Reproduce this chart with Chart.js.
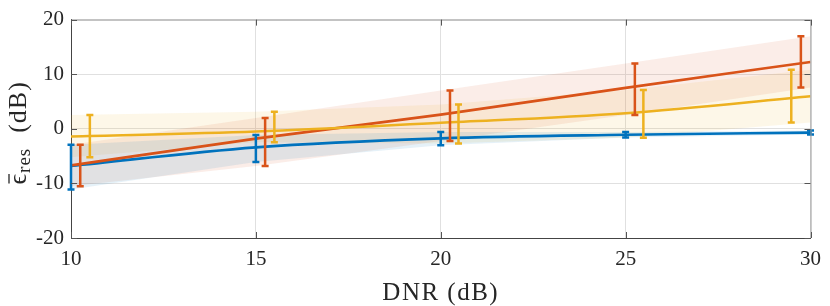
<!DOCTYPE html>
<html>
<head>
<meta charset="utf-8">
<script src="https://cdn.jsdelivr.net/npm/chart.js@4.4.1/dist/chart.umd.min.js"></script>
<style>
  html, body { margin: 0; padding: 0; background: #ffffff; }
  #chart { display: block; }
</style>
</head>
<body>
<canvas id="chart" width="830" height="306"></canvas>
<script>
// x positions of the measurements (DNR in dB)
const DNR = [10, 15, 20, 25, 30];
const X_TICKS = [10, 15, 20, 25, 30];
const Y_TICKS = [-20, -10, 0, 10, 20];

// fitted curves
const BLUE_LINE = [-6.8, -3.4, -1.75, -1.1, -0.7];
const ORANGE_LINE = [-6.7, -1.8, 2.6, 7.5, 12.25];
const YELLOW_LINE = [-1.4, -0.5, 1.1, 2.85, 5.95];

// error bars (slightly shifted along x so they do not overlap)
const BLUE_BAR_X = [10, 15, 20, 25, 30];
const BLUE_HI = [-2.9, -1.15, -0.6, -0.6, -0.3];
const BLUE_LO = [-11.1, -6.1, -3.0, -1.6, -1.05];

const ORANGE_BAR_X = [10.25, 15.25, 20.25, 25.25, 29.74];
const ORANGE_HI = [-2.9, 2.0, 7.0, 11.95, 16.95];
const ORANGE_LO = [-10.5, -6.8, -2.25, 2.55, 7.55];

const YELLOW_BAR_X = [10.51, 15.5, 20.48, 25.48, 29.48];
const YELLOW_HI = [2.55, 3.1, 4.45, 7.1, 10.8];
const YELLOW_LO = [-5.2, -2.45, -2.7, -1.65, 1.15];

const COLORS = {
  blue: "#0072BD",
  orange: "#D95319",
  yellow: "#EDB120",
};
const BAND_COLORS = {
  blue: "rgba(0, 114, 189, 0.10)",
  orange: "rgba(217, 83, 25, 0.10)",
  yellow: "rgba(237, 177, 32, 0.10)",
};

const SERIES = [
  { key: "blue", line: BLUE_LINE, barX: BLUE_BAR_X, hi: BLUE_HI, lo: BLUE_LO },
  { key: "orange", line: ORANGE_LINE, barX: ORANGE_BAR_X, hi: ORANGE_HI, lo: ORANGE_LO },
  { key: "yellow", line: YELLOW_LINE, barX: YELLOW_BAR_X, hi: YELLOW_HI, lo: YELLOW_LO },
];

const SERIF = '"Liberation Serif", "DejaVu Serif", serif';
const AXIS_COLOR = "#262626";

function points(xs, ys) {
  return xs.map((x, i) => ({ x, y: ys[i] }));
}

function buildDatasets() {
  const sets = [];
  SERIES.forEach((s) => {
    sets.push({
      data: points(DNR, s.hi),
      borderWidth: 0,
      pointRadius: 0,
      fill: false,
      order: 5,
    });
    sets.push({
      data: points(DNR, s.lo),
      borderWidth: 0,
      pointRadius: 0,
      backgroundColor: BAND_COLORS[s.key],
      fill: "-1",
      order: 5,
    });
  });
  SERIES.forEach((s, i) => {
    sets.push({
      data: points(DNR, s.line),
      borderColor: COLORS[s.key],
      borderWidth: 2.6,
      pointRadius: 0,
      fill: false,
      cubicInterpolationMode: "monotone",
      order: 3 - i,
    });
  });
  return sets;
}

// error bars with caps, positioned through the chart scales
const errorBars = {
  id: "errorBars",
  afterDatasetsDraw(chart) {
    const { ctx, scales: { x, y } } = chart;
    ctx.save();
    ctx.lineWidth = 2.5;
    ctx.lineCap = "butt";
    SERIES.forEach((s) => {
      ctx.strokeStyle = COLORS[s.key];
      s.barX.forEach((xv, i) => {
        const px = x.getPixelForValue(xv);
        const top = y.getPixelForValue(s.hi[i]);
        const bot = y.getPixelForValue(s.lo[i]);
        ctx.beginPath();
        ctx.moveTo(px, top);
        ctx.lineTo(px, bot);
        ctx.moveTo(px - 3.5, top);
        ctx.lineTo(px + 3.5, top);
        ctx.moveTo(px - 3.5, bot);
        ctx.lineTo(px + 3.5, bot);
        ctx.stroke();
      });
    });
    ctx.restore();
  },
};

// box, inward tick marks and the axis titles
const frame = {
  id: "frame",
  afterDraw(chart) {
    const { ctx, chartArea: a, scales: { x, y } } = chart;
    ctx.save();
    ctx.lineWidth = 1;
    ctx.strokeStyle = "#9a9a9a";
    ctx.beginPath();
    ctx.moveTo(a.left, a.top + 0.5);
    ctx.lineTo(a.right + 0.5, a.top + 0.5);
    ctx.lineTo(a.right + 0.5, a.bottom);
    ctx.stroke();

    ctx.strokeStyle = "#555555";
    ctx.beginPath();
    Y_TICKS.forEach((v) => {
      const py = Math.round(y.getPixelForValue(v)) + 0.5;
      ctx.moveTo(a.left, py);
      ctx.lineTo(a.left + 6, py);
      ctx.moveTo(a.right, py);
      ctx.lineTo(a.right - 6, py);
    });
    X_TICKS.forEach((v) => {
      const px = Math.round(x.getPixelForValue(v)) + 0.5;
      ctx.moveTo(px, a.bottom);
      ctx.lineTo(px, a.bottom - 6);
      ctx.moveTo(px, a.top);
      ctx.lineTo(px, a.top + 6);
    });
    ctx.stroke();

    ctx.fillStyle = AXIS_COLOR;
    ctx.textBaseline = "alphabetic";

    // x axis title
    ctx.save();
    ctx.font = "25px " + SERIF;
    ctx.letterSpacing = "1.5px";
    ctx.textAlign = "center";
    ctx.fillText("DNR (dB)", (a.left + a.right) / 2, 300);
    ctx.restore();

    // y axis title: eps-bar with subscript "res", then (dB)
    const main = "26px " + SERIF;
    const sub = "19px " + SERIF;
    ctx.textAlign = "left";
    ctx.letterSpacing = "1px";
    ctx.font = main;
    const wEps = ctx.measureText("\u03F5").width;
    const wTail = ctx.measureText("  (dB)").width;
    ctx.font = sub;
    const wSub = ctx.measureText("res").width;
    const total = wEps + wSub + wTail;
    ctx.translate(26, (a.top + a.bottom) / 2 + 4);
    ctx.rotate(-Math.PI / 2);
    let cx = -total / 2;
    ctx.font = main;
    ctx.fillText("\u03F5", cx, 0);
    ctx.strokeStyle = AXIS_COLOR;
    ctx.lineWidth = 1.3;
    ctx.beginPath();
    ctx.moveTo(cx + 1, -17);
    ctx.lineTo(cx + wEps - 1, -17);
    ctx.stroke();
    cx += wEps;
    ctx.font = sub;
    ctx.fillText("res", cx, 4);
    cx += wSub;
    ctx.font = main;
    ctx.fillText("  (dB)", cx, 0);
    ctx.restore();
  },
};

new Chart(document.getElementById("chart"), {
  type: "line",
  data: { datasets: buildDatasets() },
  plugins: [errorBars, frame],
  options: {
    responsive: false,
    animation: false,
    devicePixelRatio: 1,
    layout: { padding: { left: 0, right: 12, top: 11, bottom: 0 } },
    plugins: {
      legend: { display: false },
      tooltip: { enabled: false },
      filler: { propagate: false },
    },
    scales: {
      x: {
        type: "linear",
        min: 10,
        max: 30,
        afterBuildTicks: (scale) => { scale.ticks = X_TICKS.map((v) => ({ value: v })); },
        afterFit: (scale) => { scale.height = 68; },
        grid: { color: "#e0e0e0", drawTicks: false },
        border: { color: "#444444", width: 1 },
        ticks: {
          color: AXIS_COLOR,
          font: { family: SERIF, size: 21 },
          padding: 9,
          maxRotation: 0,
        },
      },
      y: {
        type: "linear",
        min: -20,
        max: 20,
        afterBuildTicks: (scale) => { scale.ticks = Y_TICKS.map((v) => ({ value: v })); },
        afterFit: (scale) => { scale.width = 71; },
        grid: { color: "#e0e0e0", drawTicks: false },
        border: { color: "#444444", width: 1 },
        ticks: {
          color: AXIS_COLOR,
          font: { family: SERIF, size: 21 },
          padding: 7,
          callback: (v) => String(v),
        },
      },
    },
  },
});
</script>
</body>
</html>
